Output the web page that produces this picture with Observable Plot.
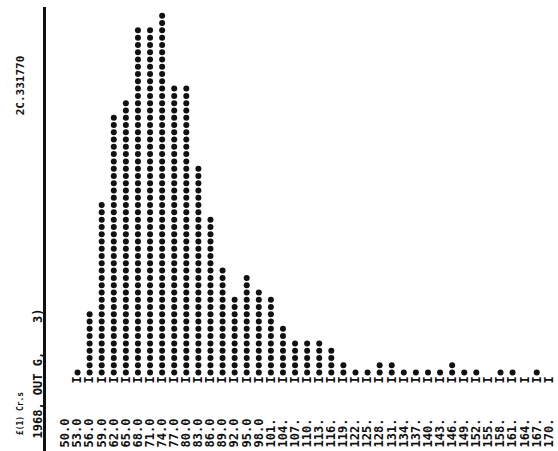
<!DOCTYPE html>
<html>
<head>
<meta charset="utf-8">
<script src="https://cdn.jsdelivr.net/npm/d3@7"></script>
<script src="https://cdn.jsdelivr.net/npm/@observablehq/plot@0.6"></script>
<style>
  html, body { margin: 0; padding: 0; background: #fff; }
  #chart svg { display: block; }
</style>
</head>
<body>
<div id="chart"></div>
<script>
// Class values (lower bounds) and their printed tick labels
const binStarts = [50, 53, 56, 59, 62, 65, 68, 71, 74, 77, 80, 83, 86, 89, 92, 95, 98,
  101, 104, 107, 110, 113, 116, 119, 122, 125, 128, 131, 134, 137, 140, 143, 146,
  149, 152, 155, 158, 161, 164, 167, 170];
const tickLabels = ["50.0", "53.0", "56.0", "59.0", "62.0", "65.0", "68.0", "71.0", "74.0",
  "77.0", "80.0", "83.0", "86.0", "89.0", "92.0", "95.0", "98.0", "101.", "104.", "107.",
  "110.", "113.", "116.", "119.", "122.", "125.", "128.", "131.", "134.", "137.", "140.",
  "143.", "146.", "149.", "152.", "155.", "158.", "161.", "164.", "167.", "170."];
// Number of printed asterisks in each column (null = no printed row)
const counts = [null, 1, 9, 24, 36, 38, 48, 48, 50, 40, 40, 29, 22, 15, 11, 14, 12,
  11, 7, 5, 5, 5, 4, 2, 1, 1, 2, 2, 1, 1, 1, 1, 2,
  1, 1, 0, 1, 1, 0, 1, 0];
// Marginal annotations of the printout
const topNote = "2C.331770";
const bottomNote = "£(1) Cr.s";
const sideNote = "1968, OUT G,    3)";

const rows = binStarts.map((v, i) => ({x: v, label: tickLabels[i], n: counts[i]}));
const printed = rows.filter(d => d.n !== null);
const stars = printed.flatMap(d => d3.range(1, d.n + 1).map(k => ({x: d.x, k})));

const xDomain = [44.8, 172.4];
const font = "'DejaVu Sans Mono', 'Liberation Mono', monospace";

const chart = Plot.plot({
  width: 558,
  height: 451,
  marginTop: 0,
  marginBottom: 0,
  marginLeft: 44,
  marginRight: 0,
  style: {fontFamily: font, background: "#fff", color: "#111"},
  x: {domain: xDomain, axis: null},
  y: {domain: [0, 50], range: [379.3, 15.3], axis: null},
  marks: [
    Plot.ruleX([xDomain[0]], {stroke: "#111", strokeWidth: 3, insetTop: 7}),
    Plot.dot(stars, {x: "x", y: "k", r: 3, fill: "#111", stroke: "none"}),
    Plot.text(printed, {x: "x", y: () => 0, text: () => "I", rotate: -90,
      fontSize: 12, fontWeight: "bold", fill: "#111"}),
    Plot.text(rows, {x: "x", text: "label", frameAnchor: "bottom", rotate: -90,
      textAnchor: "end", lineAnchor: "middle", dy: -33,
      fontSize: 12, fontWeight: "bold", fill: "#111"}),
    Plot.text([topNote], {text: d => d, frameAnchor: "top-left", rotate: -90,
      textAnchor: "middle", lineAnchor: "middle", dx: -24, dy: 85,
      fontSize: 11, fontWeight: "bold", fill: "#111"}),
    Plot.text([bottomNote], {text: d => d, frameAnchor: "bottom-left", rotate: -90,
      textAnchor: "middle", lineAnchor: "middle", dx: -24, dy: -38,
      fontSize: 8, fontWeight: "bold", fill: "#111"}),
    Plot.text([sideNote], {text: d => d, frameAnchor: "bottom-left", rotate: -90,
      textAnchor: "start", lineAnchor: "middle", dx: -6, dy: -13,
      fontSize: 12, fontWeight: "bold", fill: "#111"})
  ]
});
document.getElementById("chart").appendChild(chart);
</script>
</body>
</html>
